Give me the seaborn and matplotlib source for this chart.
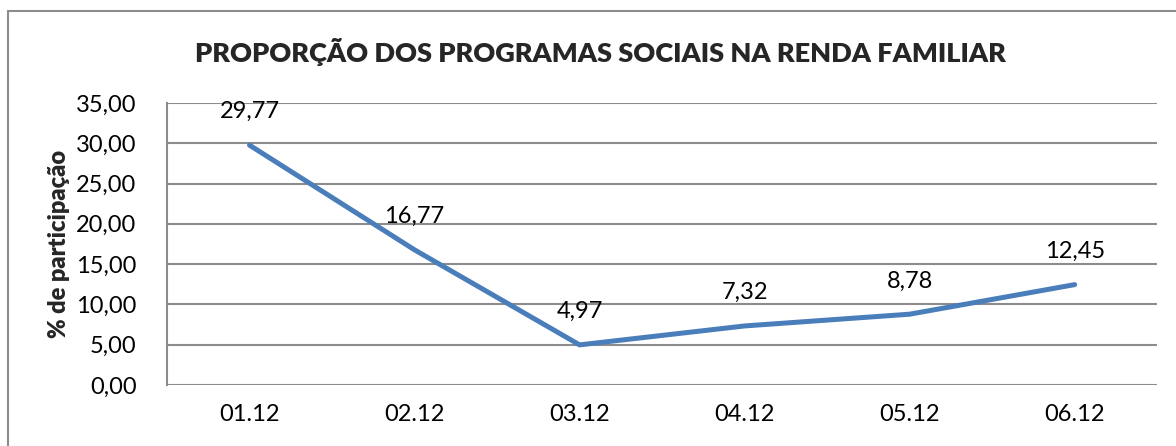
import pandas as pd
import matplotlib.pyplot as plt
import seaborn as sns
from matplotlib.patches import Rectangle
from matplotlib.ticker import FuncFormatter

periodos = ["01.12", "02.12", "03.12", "04.12", "05.12", "06.12"]
proporcao = [29.77, 16.77, 4.97, 7.32, 8.78, 12.45]
y_ticks = [0, 5, 10, 15, 20, 25, 30, 35]

TITLE = "PROPORÇÃO DOS PROGRAMAS SOCIAIS NA RENDA FAMILIAR"
YLABEL = "% de participação"

sns.set_theme(style="white")
plt.rcParams["font.family"] = ["Lato", "DejaVu Sans"]

df = pd.DataFrame({"periodo": periodos, "proporcao": proporcao})


def virgula(v, pos=None):
    return f"{v:.2f}".replace(".", ",")


fig = plt.figure(figsize=(11.76, 4.46), dpi=100)
ax = fig.add_axes([0.142, 0.137, 0.842, 0.632])

sns.lineplot(data=df, x="periodo", y="proporcao", ax=ax,
             color="#4a7ebb", linewidth=3.6, sort=False)

for i, v in enumerate(proporcao):
    ax.annotate(virgula(v), (i, v), xytext=(0, 24), textcoords="offset points",
                ha="center", va="center", fontsize=17, color="black")

ax.set_xlim(-0.5, len(periodos) - 0.5)
ax.set_ylim(0, 35)
ax.set_yticks(y_ticks)
ax.yaxis.set_major_formatter(FuncFormatter(virgula))
ax.grid(axis="y", color="#8c8c8c", linewidth=1.5)
ax.grid(axis="x", visible=False)
ax.set_axisbelow(True)
for s in ["top", "right", "bottom"]:
    ax.spines[s].set_visible(False)
ax.spines["left"].set_color("#8c8c8c")
ax.spines["left"].set_linewidth(1.5)
ax.tick_params(axis="both", length=0, labelsize=17, colors="black")
ax.tick_params(axis="y", pad=22)
ax.tick_params(axis="x", pad=14)
ax.set_xlabel("")
ax.set_ylabel(YLABEL, fontsize=17, fontweight="heavy", labelpad=4)

fig.text(0.511, 0.883, TITLE, ha="center", va="center",
         fontsize=19.5, fontweight="heavy")

# moldura externa do gráfico (cortada à direita e embaixo)
fig.patches.append(Rectangle((8 / 1176, -0.2), 1.2, 1.2 - 11 / 446,
                             transform=fig.transFigure, fill=False,
                             edgecolor="#8c8c8c", linewidth=1.5, clip_on=False))

fig.savefig("out.png", dpi=100)
